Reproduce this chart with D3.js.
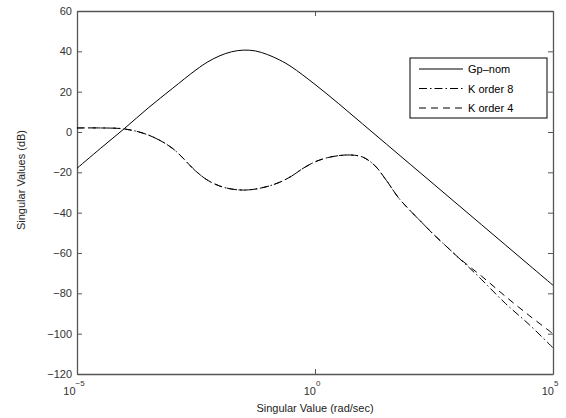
<!DOCTYPE html>
<html>
<head>
<meta charset="UTF-8"/>
<script src="https://cdnjs.cloudflare.com/ajax/libs/d3/7.8.5/d3.min.js"></script>
<style>
    body { margin: 0; background: #fff; }
    svg { font-family: "Liberation Sans", Arial, Helvetica, sans-serif; }
</style>
</head>
<body>
<div id="chart"></div>
<script>
    // frequency grid as log10 exponents (rad/sec)
    var gpExp = [-5, -4.5, -4, -3.5, -3, -2.5, -2.25, -2, -1.75, -1.5, -1.25, -1, -0.75, -0.5, 0, 0.5, 1, 1.5, 2, 2.5, 3, 3.5, 4, 4.5, 5];
    var gpNom = [-18, -8, 1.8, 12, 21.5, 30.8, 34.8, 37.8, 39.8, 40.6, 40.2, 38.4, 35.8, 32.4, 23.6, 14, 4, -6, -16, -26, -36, -46, -56, -66, -76];

    var kExp = [-5, -4.5, -4, -3.5, -3, -2.5, -2.25, -2, -1.75, -1.5, -1.25, -1, -0.75, -0.5, -0.25, 0, 0.25, 0.5, 0.75, 1, 1.25, 1.5, 1.75, 2, 2.25, 2.5, 2.75, 3];
    var kShared = [2, 2, 1.5, -1.5, -8, -19.5, -24, -26.8, -28.3, -28.8, -28.3, -27, -25, -22, -18, -14.8, -12.8, -11.7, -11.4, -12.4, -16.5, -24, -32.5, -39, -45, -51, -56.5, -62];
    var tailExp = [3.25, 3.5, 4, 4.5, 5];
    var k8Tail = [-67.5, -73.2, -85, -95.5, -107];
    var k4Tail = [-66.8, -71.5, -81.5, -91, -100];

    var yTicks = [-120, -100, -80, -60, -40, -20, 0, 20, 40, 60];
    var xTickExp = [-5, 0, 5];
    var legendNames = ["Gp\u2013nom", "K order 8", "K order 4"];

    var W = 566, H = 418;
    var pL = 77, pR = 553, pT = 11, pB = 374;

    var svg = d3.select("#chart").append("svg")
        .attr("width", W).attr("height", H);

    var x = d3.scaleLog().domain([1e-5, 1e5]).range([pL, pR]);
    var y = d3.scaleLinear().domain([-120, 60]).range([pB, pT]);

    function pts(ex, vals) {
        return ex.map(function (e, i) { return [Math.pow(10, e), vals[i]]; });
    }

    var series = [
        { name: legendNames[0], data: pts(gpExp, gpNom), dash: null },
        { name: legendNames[1], data: pts(kExp.concat(tailExp), kShared.concat(k8Tail)), dash: "8,3,1.5,3" },
        { name: legendNames[2], data: pts(kExp.concat(tailExp), kShared.concat(k4Tail)), dash: "7,5" }
    ];

    var line = d3.line()
        .x(function (d) { return x(d[0]); })
        .y(function (d) { return y(d[1]); })
        .curve(d3.curveCatmullRom.alpha(0.5));

    var axisColor = "#555";

    // axes: ticks point inward, mirrored on top and right
    var xVals = xTickExp.map(function (e) { return Math.pow(10, e); });
    var gx = svg.append("g").attr("transform", "translate(0," + pB + ")")
        .call(d3.axisBottom(x).tickValues(xVals).tickSizeInner(-5).tickSizeOuter(0).tickFormat(""));
    var gxt = svg.append("g").attr("transform", "translate(0," + pT + ")")
        .call(d3.axisTop(x).tickValues(xVals).tickSizeInner(-5).tickSizeOuter(0).tickFormat(""));
    var gy = svg.append("g").attr("transform", "translate(" + pL + ",0)")
        .call(d3.axisLeft(y).tickValues(yTicks).tickSizeInner(-5).tickSizeOuter(0).tickPadding(5)
            .tickFormat(function (d) { return d < 0 ? "\u2212" + Math.abs(d) : d; }));
    var gyr = svg.append("g").attr("transform", "translate(" + pR + ",0)")
        .call(d3.axisRight(y).tickValues(yTicks).tickSizeInner(-5).tickSizeOuter(0).tickFormat(""));

    [gx, gxt, gy, gyr].forEach(function (g) {
        g.selectAll("path, line").attr("stroke", axisColor);
        g.select("path").attr("stroke-width", 1.3);
    });
    gy.selectAll("text").attr("font-size", 11).attr("fill", "#333")
        .attr("font-family", "Liberation Sans, Arial, sans-serif");

    // x tick labels as 10 with superscript
    var xl = svg.append("g").selectAll("text").data(xTickExp).enter().append("text")
        .attr("x", function (e) { return x(Math.pow(10, e)) - 3; })
        .attr("y", 395)
        .attr("text-anchor", "middle")
        .attr("font-size", 11).attr("fill", "#333");
    xl.append("tspan").text("10");
    xl.append("tspan").attr("dy", -9).attr("font-size", 8)
        .text(function (e) { return e < 0 ? "\u2212" + Math.abs(e) : e; });

    // curves
    svg.append("g").selectAll("path").data(series).enter().append("path")
        .attr("d", function (s) { return line(s.data); })
        .attr("fill", "none")
        .attr("stroke", "#000")
        .attr("stroke-width", 1)
        .attr("stroke-dasharray", function (s) { return s.dash; });

    // axis titles
    svg.append("text").attr("x", (pL + pR) / 2).attr("y", 412)
        .attr("text-anchor", "middle").attr("font-size", 11).attr("fill", "#222")
        .text("Singular Value (rad/sec)");
    svg.append("text")
        .attr("transform", "translate(25," + 180 + ") rotate(-90)")
        .attr("text-anchor", "middle").attr("font-size", 11).attr("fill", "#222")
        .text("Singular Values (dB)");

    // legend
    var lg = svg.append("g").attr("transform", "translate(410,58)");
    lg.append("rect").attr("width", 137).attr("height", 60)
        .attr("fill", "#fff").attr("stroke", "#000").attr("stroke-width", 1);
    var items = lg.selectAll("g.item").data(series).enter().append("g")
        .attr("transform", function (d, i) { return "translate(0," + (11 + i * 19.5) + ")"; });
    items.append("line").attr("x1", 9).attr("x2", 53)
        .attr("stroke", "#000").attr("stroke-width", 1)
        .attr("stroke-dasharray", function (d) { return d.dash; });
    items.append("text").attr("x", 58).attr("y", 4)
        .attr("font-size", 11).attr("fill", "#000")
        .text(function (d) { return d.name; });
</script>
</body>
</html>
